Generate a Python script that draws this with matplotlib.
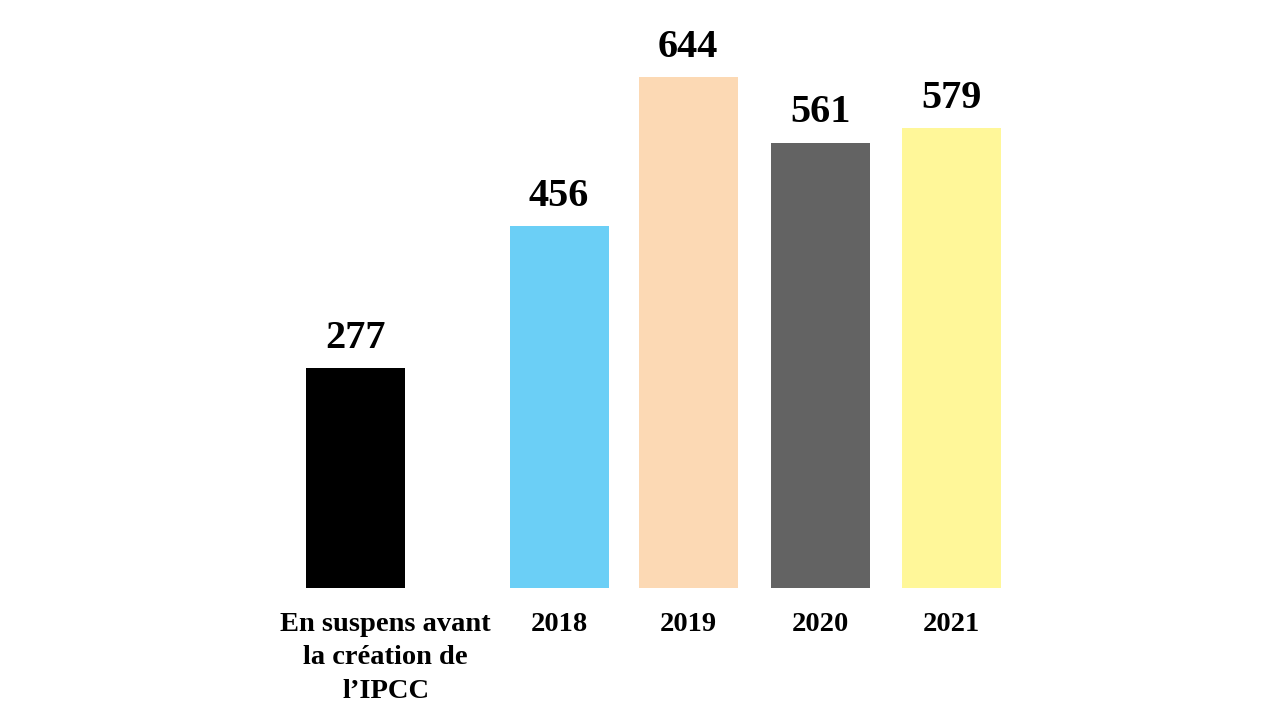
import matplotlib
matplotlib.use("Agg")
import matplotlib.pyplot as plt

categories = ["En suspens avant\nla création de\nl\u2019IPCC", "2018", "2019", "2020", "2021"]
values = [277, 456, 644, 561, 579]
colors = ["#000000", "#6BCFF6", "#FCD9B4", "#636363", "#FFF799"]
positions = [0, 1.557, 2.542, 3.55, 4.55]
label_shift = [22, 0, 0, 0, 0]

plt.rcParams['font.family'] = ['Liberation Serif', 'DejaVu Serif']

fig = plt.figure(figsize=(12.8, 7.2), dpi=100)
ax = fig.add_axes([0, 0, 1, 1])
ax.bar(positions, values, width=0.756, color=colors)
ax.set_xlim(-2.71, 7.06)
ax.set_ylim(-166, 740.5)
ax.axis('off')

for x, v in zip(positions, values):
    ax.annotate(str(v), (x, v), xytext=(0, 8), textcoords='offset points',
                ha='center', va='bottom', fontsize=29, fontweight='bold')

for x, c, s in zip(positions, categories, label_shift):
    ax.annotate(c, (x, 0), xytext=(s, -17), textcoords='offset points',
                ha='center', va='top', fontsize=20.5, fontweight='bold',
                linespacing=1.45)

fig.savefig("out.png", dpi=100)
